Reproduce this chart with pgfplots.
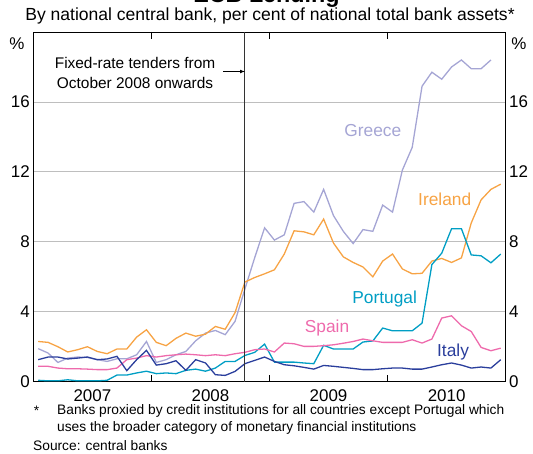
\documentclass[border=0pt]{standalone}
\usepackage{fontspec}
\setmainfont{Liberation Sans}
\usepackage{pgfplots}
\pgfplotsset{compat=1.18}
\usepackage{pgfplotstable}

\definecolor{greece}{RGB}{165,165,212}
\definecolor{ireland}{RGB}{247,163,68}
\definecolor{portugal}{RGB}{0,158,196}
\definecolor{spain}{RGB}{238,106,172}
\definecolor{italy}{RGB}{42,62,156}
\definecolor{gridgrey}{RGB}{190,190,190}

% monthly, Jan 2007 = 0.5
\pgfplotstableread{
m     greece ireland portugal spain italy
0.5   1.89   2.30    0.08     0.88  1.26
1.5   1.64   2.25    0.05     0.88  1.41
2.5   1.10   2.00    0.05     0.78  1.41
3.5   1.35   1.70    0.11     0.74  1.30
4.5   1.41   1.83    0.05     0.74  1.35
5.5   1.39   2.00    0.05     0.72  1.41
6.5   1.26   1.73    0.05     0.69  1.26
7.5   1.16   1.60    0.08     0.69  1.30
8.5   1.31   1.87    0.38     0.78  1.45
9.5   1.31   1.87    0.38     1.26  0.63
10.5  1.54   2.55    0.50     1.35  1.26
11.5  2.30   2.97    0.60     1.49  1.79
12.5  1.10   2.25    0.46     1.41  0.95
13.5  1.26   2.06    0.50     1.49  1.03
14.5  1.54   2.48    0.46     1.54  1.20
15.5  1.73   2.78    0.65     1.58  0.65
16.5  2.34   2.60    0.72     1.54  1.26
17.5  2.78   2.72    0.60     1.49  1.07
18.5  2.93   3.16    0.78     1.54  0.40
19.5  2.69   3.00    1.16     1.49  0.36
20.5  3.45   3.95    1.16     1.60  0.59
21.5  5.30   5.70    1.50     1.68  1.03
22.5  7.10   5.96    1.68     1.83  1.22
23.5  8.80   6.17    2.15     1.87  1.41
24.5  8.10   6.40    1.12     1.70  1.16
25.5  8.40   7.30    1.12     2.21  0.97
26.5  10.2   8.63    1.12     2.17  0.91
27.5  10.3   8.57    1.07     2.02  0.82
28.5  9.70   8.40    1.03     2.02  0.72
29.5  11.0   9.30    2.08     2.06  0.93
30.5  9.50   7.93    1.87     2.11  0.88
31.5  8.60   7.14    1.87     2.20  0.82
32.5  7.90   6.82    1.87     2.30  0.76
33.5  8.70   6.56    2.27     2.44  0.69
34.5  8.60   6.00    2.33     2.34  0.69
35.5  10.1   6.90    3.07     2.25  0.74
36.5  9.70   7.30    2.91     2.25  0.78
37.5  12.1   6.45    2.91     2.25  0.78
38.5  13.4   6.17    2.91     2.40  0.72
39.5  16.9   6.20    3.35     2.21  0.72
40.5  17.7   6.90    6.70     2.44  0.84
41.5  17.3   7.05    7.35     3.64  0.97
42.5  18.0   6.82    8.75     3.77  1.07
43.5  18.4   7.08    8.75     3.20  0.95
44.5  17.9   9.08    7.25     2.87  0.78
45.5  17.9   10.4    7.20     1.96  0.84
46.5  18.4   11.0    6.80     1.77  0.78
47.5  nan    11.3    7.30     1.92  1.26
}\ecbdata

\begin{document}
\begin{tikzpicture}
  \pgfplotsset{
    ecbaxis/.style={
      width=472.4bp, height=349.7bp, scale only axis,
      xmin=0, xmax=48, ymin=0, ymax=20,
      ytick={0,4,8,12,16},
      /pgf/number format/assume math mode=true,
      ticklabel style={font=\fontsize{17}{20}\selectfont},
      axis line style={black, line width=0.8pt},
    },
  }
  \begin{axis}[
    ecbaxis,
    xtick={6,18,30,42},
    xticklabels={2007,2008,2009,2010},
    xticklabel style={yshift=-4bp},
    major tick length=0pt,
    extra x ticks={12,24,36},
    extra x tick labels={},
    extra x tick style={major tick length=7bp, tick align=inside,
      tick style={black, line width=0.8pt}, grid=none},
    ymajorgrids=true,
    grid style={gridgrey, line width=0.8pt},
    every axis plot/.append style={line width=1.3pt, no marks},
  ]
    \addplot[greece] table[x=m, y=greece] {\ecbdata};
    \addplot[ireland] table[x=m, y=ireland] {\ecbdata};
    \addplot[portugal] table[x=m, y=portugal] {\ecbdata};
    \addplot[spain] table[x=m, y=spain] {\ecbdata};
    \addplot[italy] table[x=m, y=italy] {\ecbdata};

    \draw[black!80, line width=0.8pt] (axis cs:21.5,0) -- (axis cs:21.5,20);
    \draw[-latex, black, line width=0.7pt] (axis cs:19.3,17.74) -- (axis cs:21.5,17.74);
    \node[align=center, font=\fontsize{15.5}{20}\selectfont]
      at (axis cs:10.34,17.67) {Fixed-rate tenders from\\October 2008 onwards};

    \node[greece, font=\fontsize{17.4}{20}\selectfont] at (axis cs:34.5,14.35) {Greece};
    \node[ireland, font=\fontsize{17.4}{20}\selectfont] at (axis cs:41.8,10.46) {Ireland};
    \node[portugal, font=\fontsize{17.4}{20}\selectfont] at (axis cs:35.7,4.74) {Portugal};
    \node[spain, font=\fontsize{17.4}{20}\selectfont] at (axis cs:29.85,3.08) {Spain};
    \node[italy, font=\fontsize{17.4}{20}\selectfont] at (axis cs:42.65,1.70) {Italy};
  \end{axis}
  \begin{axis}[
    ecbaxis,
    axis x line=none,
    axis y line*=right,
    major tick length=0pt,
  ]
  \end{axis}

  \node[font=\fontsize{17}{20}\selectfont] at (-16.3bp,337.7bp) {\%};
  \node[font=\fontsize{17}{20}\selectfont] at (485.7bp,337.7bp) {\%};

  \node[anchor=base, font=\bfseries\fontsize{23.4}{26}\selectfont] at (233.2bp,379.2bp) {ECB Lending};
  \node[font=\fontsize{17.6}{20}\selectfont] at (236.7bp,365.7bp)
    {By national central bank, per cent of national total bank assets*};

  \node[anchor=west, inner sep=0pt, font=\fontsize{13.8}{17}\selectfont] at (0.5bp,-29.3bp) {*};
  \node[anchor=west, inner sep=0pt, font=\fontsize{13.8}{17}\selectfont] at (23.7bp,-29.3bp)
    {Banks proxied by credit institutions for all countries except Portugal which};
  \node[anchor=west, inner sep=0pt, font=\fontsize{13.8}{17}\selectfont] at (23.7bp,-46.3bp)
    {uses the broader category of monetary financial institutions};
  \node[anchor=west, inner sep=0pt, font=\fontsize{13.8}{17}\selectfont] at (-0.3bp,-64.3bp)
    {Source: central banks};

  \pgfresetboundingbox
  \useasboundingbox (-33.3bp,-72.3bp) rectangle (499.7bp,381.7bp);
\end{tikzpicture}
\end{document}
